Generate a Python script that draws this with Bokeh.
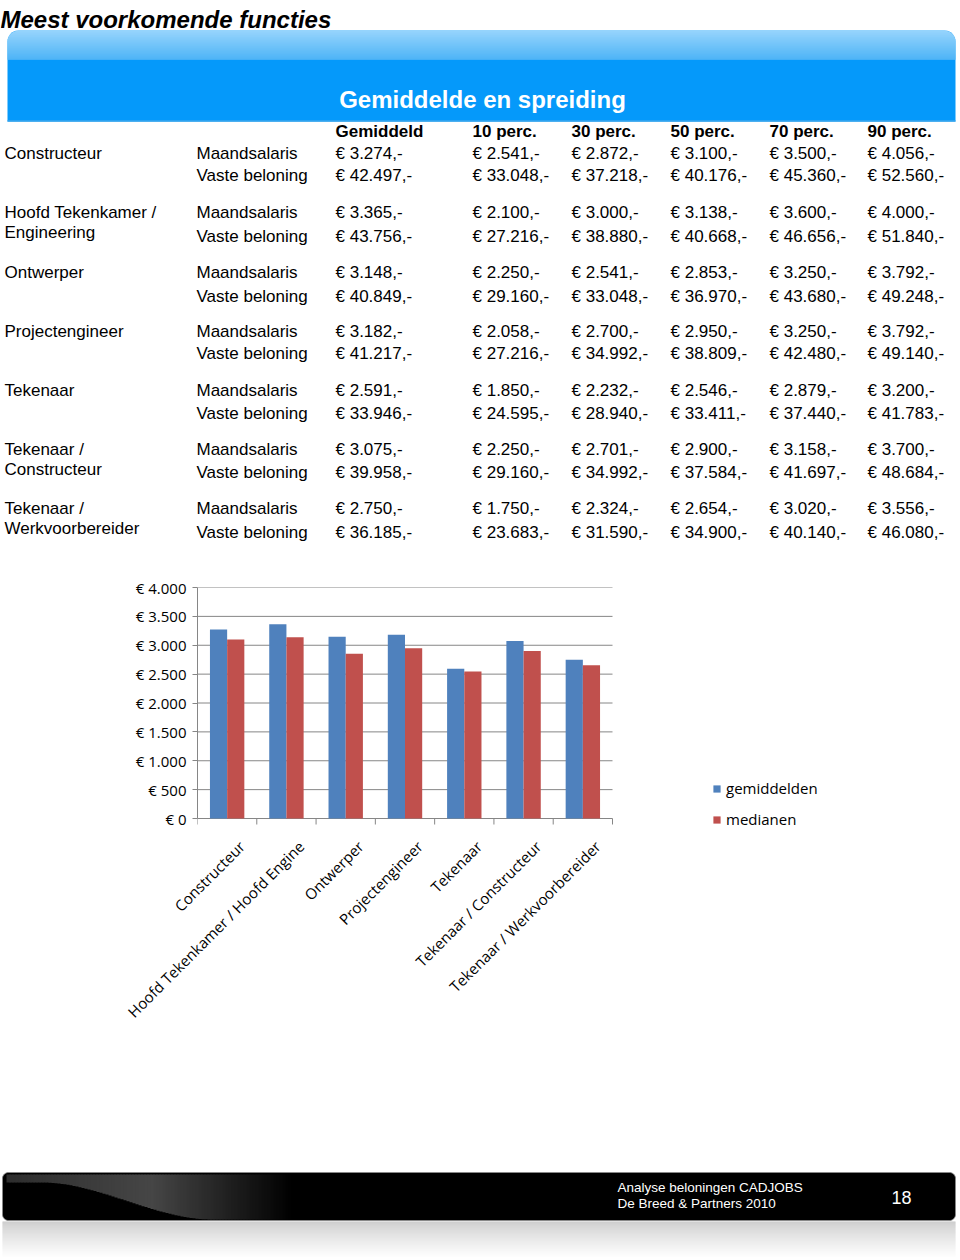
import math
from bokeh.plotting import figure
from bokeh.models import Range1d, FixedTicker, Legend, LegendItem
from bokeh.layouts import column
from bokeh.embed import file_html
from bokeh.resources import INLINE
from bokeh.core.properties import value

# ---------------- DATA ----------------
page_title = "Meest voorkomende functies"
table_title = "Gemiddelde en spreiding"
table_functions = ["Constructeur", "Hoofd Tekenkamer /\nEngineering", "Ontwerper",
                   "Projectengineer", "Tekenaar", "Tekenaar /\nConstructeur",
                   "Tekenaar /\nWerkvoorbereider"]
salary_types = ["Maandsalaris", "Vaste beloning"]
column_headers = ["Gemiddeld", "10 perc.", "30 perc.", "50 perc.", "70 perc.", "90 perc."]
maandsalaris = [
    [3274, 2541, 2872, 3100, 3500, 4056],
    [3365, 2100, 3000, 3138, 3600, 4000],
    [3148, 2250, 2541, 2853, 3250, 3792],
    [3182, 2058, 2700, 2950, 3250, 3792],
    [2591, 1850, 2232, 2546, 2879, 3200],
    [3075, 2250, 2701, 2900, 3158, 3700],
    [2750, 1750, 2324, 2654, 3020, 3556],
]
vaste_beloning = [
    [42497, 33048, 37218, 40176, 45360, 52560],
    [43756, 27216, 38880, 40668, 46656, 51840],
    [40849, 29160, 33048, 36970, 43680, 49248],
    [41217, 27216, 34992, 38809, 42480, 49140],
    [33946, 24595, 28940, 33411, 37440, 41783],
    [39958, 29160, 34992, 37584, 41697, 48684],
    [36185, 23683, 31590, 34900, 40140, 46080],
]
chart_categories = ["Constructeur", "Hoofd Tekenkamer / Hoofd Engine", "Ontwerper",
                    "Projectengineer", "Tekenaar", "Tekenaar / Constructeur",
                    "Tekenaar / Werkvoorbereider"]
gemiddelden = [3274, 3365, 3148, 3182, 2591, 3075, 2750]
medianen = [3100, 3138, 2853, 2950, 2546, 2900, 2654]
series_names = ["gemiddelden", "medianen"]
y_ticks = [0, 500, 1000, 1500, 2000, 2500, 3000, 3500, 4000]
y_tick_labels = ["€ 0", "€ 500", "€ 1.000", "€ 1.500", "€ 2.000", "€ 2.500",
                 "€ 3.000", "€ 3.500", "€ 4.000"]
footer_lines = ["Analyse beloningen CADJOBS", "De Breed & Partners 2010"]
page_number = "18"

# ---------------- helpers ----------------
ARIAL = value("Liberation Sans")
PAGE_W = 960


def euro(v):
    return "€ " + f"{v:,}".replace(",", ".") + ",-"


def blank(y0, y1):
    f = figure(width=PAGE_W, height=y1 - y0, x_range=Range1d(0, PAGE_W), y_range=Range1d(y1, y0),
               output_backend="svg", toolbar_location=None, min_border=0,
               x_axis_location=None, y_axis_location=None, outline_line_color=None,
               frame_align=False)
    f.grid.visible = False
    return f


def rounded_box(x0, x1, yt, yb, r, rb=0):
    pts = []
    if rb:
        for k in range(9):
            a = k * (math.pi / 2) / 8
            pts.append((x0 + rb - rb * math.sin(a), yb - rb + rb * math.cos(a)))
    else:
        pts.append((x0, yb))
    for k in range(9):
        a = k * (math.pi / 2) / 8
        pts.append((x0 + r - r * math.cos(a), yt + r - r * math.sin(a)))
    for k in range(9):
        a = k * (math.pi / 2) / 8
        pts.append((x1 - r + r * math.sin(a), yt + r - r * math.cos(a)))
    if rb:
        for k in range(9):
            a = k * (math.pi / 2) / 8
            pts.append((x1 - rb + rb * math.cos(a), yb - rb + rb * math.sin(a)))
    else:
        pts.append((x1, yb))
    return [p[0] for p in pts], [p[1] for p in pts]


def mix(c1, c2, t):
    return "#%02x%02x%02x" % tuple(int(round(a + (b - a) * t)) for a, b in zip(c1, c2))


# ---------------- top figure: title + table ----------------
top = blank(0, 570)

top.text(x=[0], y=[19], text=[page_title], text_font=ARIAL, text_font_size="24px",
         text_font_style="bold italic", text_color="black", text_baseline="alphabetic")

BX0, BX1, BYT, BYB, BR = 7, 955, 30, 121, 11
bx, by = rounded_box(BX0, BX1, BYT, BYB, BR)
top.patch(bx, by, fill_color="#0599fa", line_color=None)
gl, gr, gt, gb, gc = [], [], [], [], []
G_END = 59
for yy in range(BYT, G_END):
    yc = yy + 0.5
    dy = BYT + BR - yc
    inset = BR - math.sqrt(max(BR * BR - dy * dy, 0)) if dy > 0 else 0
    gl.append(BX0 + inset)
    gr.append(BX1 - inset)
    gt.append(yy)
    gb.append(yy + 1.3)
    gc.append(mix((170, 220, 252), (88, 184, 246), (yy - BYT) / (G_END - BYT)))
top.quad(left=gl, right=gr, top=gt, bottom=gb, fill_color=gc, line_color=None)
top.segment(x0=[BX0], y0=[BYB - 0.5], x1=[BX1], y1=[BYB - 0.5], line_color="#3aa6ec", line_width=1.5)

top.text(x=[482], y=[99], text=[table_title], text_font=ARIAL, text_font_size="24px",
         text_font_style="bold", text_color="white", text_align="center",
         text_baseline="middle")

col_x = [335, 472, 571, 670, 769, 867]
row_y1 = [153, 212, 272, 331, 390, 449, 508]
row_y2 = [175, 236, 296, 353, 413, 472, 532]
name_dy = 20

top.text(x=col_x, y=[131] * 6, text=column_headers, text_font=ARIAL, text_font_size="17px",
         text_font_style="bold", text_color="black", text_baseline="middle")

tx, ty, tt = [], [], []
for i, fn in enumerate(table_functions):
    for k, line in enumerate(fn.split("\n")):
        tx.append(4)
        ty.append(row_y1[i] + k * name_dy)
        tt.append(line)
    tx += [196, 196]
    ty += [row_y1[i], row_y2[i]]
    tt += salary_types
    for j in range(len(column_headers)):
        tx += [col_x[j], col_x[j]]
        ty += [row_y1[i], row_y2[i]]
        tt += [euro(maandsalaris[i][j]), euro(vaste_beloning[i][j])]
top.text(x=tx, y=ty, text=tt, text_font=ARIAL, text_font_size="17px",
         text_color="black", text_baseline="middle")

# ---------------- bar chart ----------------
# page pixels: value area 197..612 x 587..818 (value 4000..0); the frame is
# extended right/down so that the legend, which sits inside it, is not clipped
n = len(chart_categories)
Y_MAX = y_ticks[-1]
PX_L, PX_R, PX_T, PX_B = 197, 612, 587, 818
FR_R, FR_B = 860, 834
CH_T, CH_B = 570, 1040
x_end = n * (FR_R - PX_L) / (PX_R - PX_L)
px_per_val = (PX_B - PX_T) / Y_MAX
y_start = -(FR_B - PX_B) / px_per_val

chart = figure(width=PAGE_W, height=CH_B - CH_T, x_range=Range1d(0, x_end),
               y_range=Range1d(y_start, Y_MAX),
               output_backend="svg", toolbar_location=None,
               min_border_left=PX_L, min_border_right=PAGE_W - FR_R,
               min_border_top=PX_T - CH_T, min_border_bottom=CH_B - FR_B,
               outline_line_color=None, frame_align=False)

GRAY = "#868686"
chart.grid.visible = False
# horizontal grid lines at the value ticks, spanning the category area only
chart.segment(x0=[0] * len(y_ticks), x1=[n] * len(y_ticks), y0=y_ticks, y1=y_ticks,
              line_color=GRAY, line_width=1, level="underlay")
# category separator ticks below the zero line
tick_len = 6 / px_per_val
chart.segment(x0=list(range(n + 1)), x1=list(range(n + 1)), y0=[0] * (n + 1),
              y1=[-tick_len] * (n + 1), line_color=GRAY, line_width=1)

centers = [i + 0.5 for i in range(n)]
bw = 0.29
r1 = chart.vbar(x=[c - bw / 2 for c in centers], top=gemiddelden, width=bw, bottom=0,
                fill_color="#4F81BD", line_color=None)
r2 = chart.vbar(x=[c + bw / 2 for c in centers], top=medianen, width=bw, bottom=0,
                fill_color="#C0504D", line_color=None)

ya = chart.yaxis[0]
ya.ticker = FixedTicker(ticks=y_ticks)
ya.bounds = (0, Y_MAX)
ya.major_label_overrides = {t: l for t, l in zip(y_ticks, y_tick_labels)}
ya.axis_line_color = GRAY
ya.major_tick_line_color = GRAY
ya.major_tick_out = 5
ya.major_tick_in = 0
ya.minor_tick_line_color = None
ya.major_label_text_font = "Open Sans"
ya.major_label_text_font_size = "15px"
ya.major_label_text_color = "black"
ya.major_label_standoff = 6

shift = 0.25
label_ticks = [round(c + shift, 3) for c in centers]
xa = chart.xaxis[0]
xa.ticker = FixedTicker(ticks=label_ticks)
xa.major_label_overrides = {t: l for t, l in zip(label_ticks, chart_categories)}
xa.axis_line_color = None
xa.major_tick_line_color = None
xa.minor_tick_line_color = None
xa.major_tick_out = 0
xa.major_tick_in = 0
xa.major_label_orientation = math.pi / 4
xa.major_label_standoff = 25 - (FR_B - PX_B)
xa.major_label_text_font = "Open Sans"
xa.major_label_text_font_size = "15px"
xa.major_label_text_color = "black"

legend = Legend(items=[LegendItem(label=series_names[0], renderers=[r1]),
                       LegendItem(label=series_names[1], renderers=[r2])],
                location=(712 - PX_L, FR_B - 829), orientation="vertical", padding=0, margin=0,
                spacing=11, glyph_width=9, glyph_height=9, label_standoff=5,
                label_height=20,
                label_text_font="Open Sans", label_text_font_size="15px",
                label_text_color="black", border_line_color=None,
                background_fill_alpha=0)
chart.add_layout(legend)

# ---------------- footer ----------------
foot = blank(1040, 1260)
FX0, FX1, FYT, FYB = 2, 955, 1172, 1220
fx, fy = rounded_box(FX0, FX1, FYT, FYB, 6, rb=6)
foot.patch(fx, fy, fill_color="black", line_color="#8a8a8a", line_width=0.8)

# gloss on the left of the bar
ql, qr, qt, qb, qc = [], [], [], [], []
for xx in range(6, 300, 3):
    t = (xx - 40) / 170.0
    t = min(max(t, 0), 1)
    s = t * t * (3 - 2 * t)
    ybot = 1182 + (1219 - 1182) * s
    if xx < 150:
        g = 45 + (xx - 6) / 144 * 25
    else:
        g = max(70 - (xx - 150) / 140 * 70, 0)
    ql.append(xx)
    qr.append(xx + 4)
    qt.append(1174)
    qb.append(ybot)
    qc.append(mix((0, 0, 0), (255, 255, 255), g / 255.0))
foot.quad(left=ql, right=qr, top=qt, bottom=qb, fill_color=qc, line_color=None)

# reflection below the bar
rl, rr, rt, rb_, rc = [], [], [], [], []
for yy in range(1221, 1260):
    t = (yy - 1221) / 36.0
    rl.append(2)
    rr.append(955)
    rt.append(yy)
    rb_.append(yy + 1.3)
    rc.append(mix((198, 198, 198), (255, 255, 255), min(t, 1) ** 0.8))
foot.quad(left=rl, right=rr, top=rt, bottom=rb_, fill_color=rc, line_color=None)

foot.text(x=[617, 617], y=[1187, 1203], text=footer_lines, text_font=ARIAL,
          text_font_size="13.5px", text_color="white", text_baseline="middle")
foot.text(x=[891], y=[1197], text=[page_number], text_font=ARIAL, text_font_size="18px",
          text_color="white", text_baseline="middle")

page = column(top, chart, foot, spacing=0)
open("out.html", "w").write(file_html(page, INLINE))
